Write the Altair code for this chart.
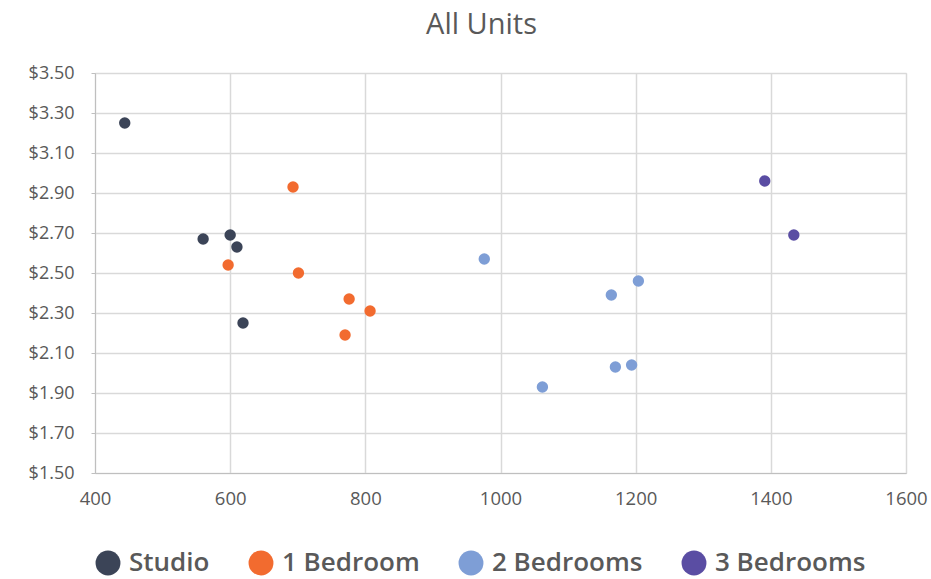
import altair as alt
import pandas as pd

categories = ["Studio", "1 Bedroom", "2 Bedrooms", "3 Bedrooms"]
colors = ["#3B4457", "#F26B2F", "#7E9ED6", "#5A4DA3"]

studio_sqft = [444, 560, 600, 610, 619]
studio_rent = [3.25, 2.67, 2.69, 2.63, 2.25]
one_sqft = [693, 597, 701, 776, 807, 770]
one_rent = [2.93, 2.54, 2.50, 2.37, 2.31, 2.19]
two_sqft = [976, 1062, 1164, 1204, 1170, 1194]
two_rent = [2.57, 1.93, 2.39, 2.46, 2.03, 2.04]
three_sqft = [1391, 1434]
three_rent = [2.96, 2.69]

rows = []
for cat, xs, ys in zip(categories,
                       [studio_sqft, one_sqft, two_sqft, three_sqft],
                       [studio_rent, one_rent, two_rent, three_rent]):
    for x, y in zip(xs, ys):
        rows.append({"type": cat, "sqft": x, "rent": y})
df = pd.DataFrame(rows)

FONT = "Open Sans"
TXT = "#595959"

chart = alt.Chart(df).mark_circle(size=130, opacity=1).encode(
    x=alt.X("sqft:Q", scale=alt.Scale(domain=[400, 1600], nice=False),
            axis=alt.Axis(values=[400, 600, 800, 1000, 1200, 1400, 1600], title=None,
                          format="d", labelFlush=False,
                          labelFontSize=18.5, labelColor=TXT, labelFont=FONT,
                          labelPadding=16, ticks=False, domainColor="#BFBFBF",
                          gridColor="#D9D9D9", gridWidth=1.5)),
    y=alt.Y("rent:Q", scale=alt.Scale(domain=[1.5, 3.5], nice=False, zero=False),
            axis=alt.Axis(values=[1.5, 1.7, 1.9, 2.1, 2.3, 2.5, 2.7, 2.9, 3.1, 3.3, 3.5],
                          format="$.2f", title=None, labelFontSize=18, labelColor=TXT,
                          labelFlush=False,
                          labelFont=FONT, labelPadding=17, tickSize=4, tickColor="#BFBFBF",
                          domainColor="#BFBFBF", gridColor="#D9D9D9", gridWidth=1.5)),
    color=alt.Color("type:N", sort=categories,
                    scale=alt.Scale(domain=categories, range=colors),
                    legend=alt.Legend(orient="none", direction="horizontal",
                                      legendX=0, legendY=477, title=None,
                                      symbolType="circle", symbolSize=620,
                                      symbolOpacity=1, symbolStrokeWidth=0,
                                      labelFontSize=26, labelFont=FONT, labelFontWeight=600,
                                      labelColor=TXT, labelOffset=8, columnPadding=38,
                                      labelLimit=300)),
).properties(
    width=811, height=400,
    title=alt.TitleParams("All Units", fontSize=29, font=FONT, color=TXT,
                          fontWeight="normal", anchor="middle", dx=-19, offset=24),
    autosize=alt.AutoSizeParams(type="none"),
    padding={"left": 95, "top": 73, "right": 25, "bottom": 106},
).configure_view(stroke=None).configure(background="white")

chart.save("out.html", embed_options={"renderer": "svg", "actions": False})
